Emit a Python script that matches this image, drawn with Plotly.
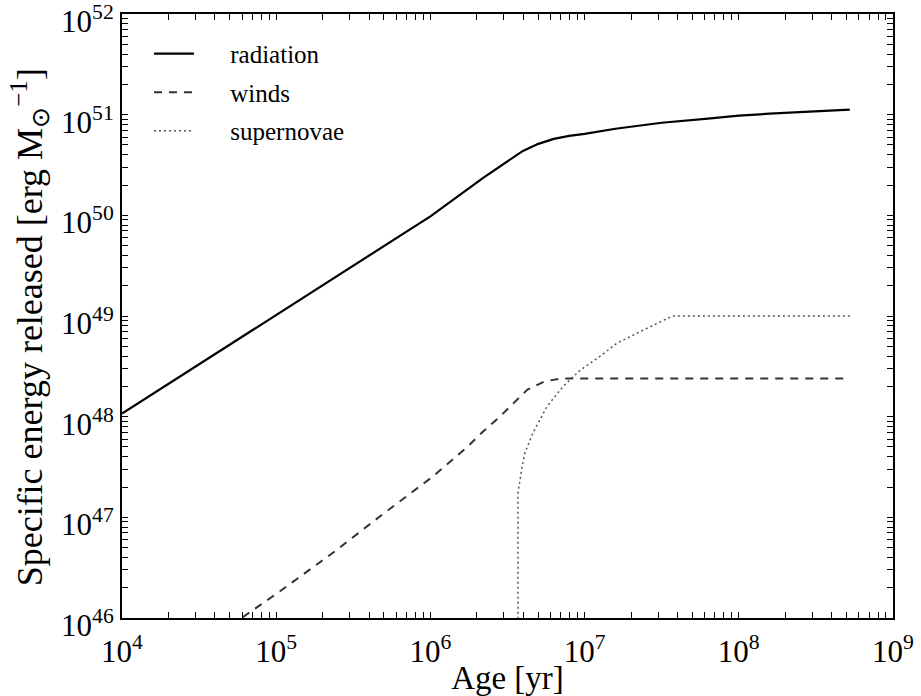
import plotly.graph_objects as go

# Stellar feedback energy per unit stellar mass vs. population age
rad_age_log = [4.0, 4.5, 5.0, 5.5, 6.0, 6.34, 6.5, 6.6, 6.7, 6.8, 6.9, 7.0, 7.2, 7.5, 7.8, 8.0, 8.2, 8.5, 8.72]
rad_e_log = [48.03, 48.52, 49.01, 49.50, 49.99, 50.37, 50.54, 50.64, 50.71, 50.76, 50.79, 50.81, 50.86, 50.92, 50.96, 50.99, 51.01, 51.03, 51.05]

wind_age_log = [4.70, 4.785, 5.01, 5.37, 5.69, 5.85, 6.02, 6.24, 6.34, 6.45, 6.63, 6.74, 6.85, 8.72]
wind_e_log = [45.93, 46.01, 46.25, 46.65, 47.03, 47.21, 47.41, 47.70, 47.85, 48.0, 48.27, 48.35, 48.38, 48.38]

sn_age_log = [6.568, 6.568, 6.594, 6.613, 6.665, 6.756, 6.86, 6.97, 7.10, 7.21, 7.38, 7.57, 8.72]
sn_e_log = [45.0, 47.24, 47.50, 47.64, 47.84, 48.10, 48.30, 48.46, 48.60, 48.73, 48.86, 49.0, 49.0]

x_ticks = [4, 5, 6, 7, 8, 9]
y_ticks = [46, 47, 48, 49, 50, 51, 52]
x_range = [3.9999, 9.0001]
y_range = [45.9999, 52.0001]


def pw(v):
    return [10.0 ** a for a in v]


def tick_arrays(decades):
    """Decade ticks with labels plus unlabelled 2..9 ticks inside each decade."""
    vals, text = [], []
    for d in decades:
        vals.append(10.0 ** d)
        text.append(f"10<sup>{d}</sup>")
    for d in decades[:-1]:
        for k in range(2, 10):
            vals.append(k * 10.0 ** d)
            text.append("")
    return vals, text


FONT = "Liberation Serif"

fig = go.Figure()
fig.add_trace(go.Scatter(x=pw(rad_age_log), y=pw(rad_e_log), mode="lines",
                         name="     radiation", legendgroup="a",
                         line=dict(color="black", width=2.2)))
fig.add_trace(go.Scatter(x=pw(wind_age_log), y=pw(wind_e_log), mode="lines",
                         name="     winds", legendgroup="b",
                         line=dict(color="#333333", width=2, dash="8px,7px")))
fig.add_trace(go.Scatter(x=pw(sn_age_log), y=pw(sn_e_log), mode="lines",
                         name="     supernovae", legendgroup="c",
                         line=dict(color="#555555", width=1.5, dash="2px,3px")))

axis_common = dict(
    type="log", showgrid=False, zeroline=False, automargin=False,
    showline=True, linecolor="black", linewidth=2, mirror="allticks",
    ticks="inside", ticklen=6, tickwidth=1.2, tickcolor="black",
    tickfont=dict(family=FONT, size=31, color="black"),
    ticklabeloverflow="allow",
)

xv, xt = tick_arrays(x_ticks)
yv, yt = tick_arrays(y_ticks)

fig.update_layout(
    template="none",
    width=921, height=696,
    margin=dict(l=122, r=28, t=14, b=78),
    paper_bgcolor="white", plot_bgcolor="white",
    font=dict(family=FONT, color="black"),
    xaxis=dict(axis_common, range=x_range, tickvals=xv, ticktext=xt,
               ticklabelstandoff=5,
               title=dict(text="Age [yr]", font=dict(family=FONT, size=33), standoff=0)),
    yaxis=dict(axis_common, range=y_range, tickvals=yv, ticktext=yt,
               ticklabelshift=7),
    legend=dict(x=0.035, y=0.972, xanchor="left", yanchor="top",
                bgcolor="rgba(0,0,0,0)", borderwidth=0,
                font=dict(family=FONT, size=25, color="black"),
                traceorder="grouped", tracegroupgap=3, itemwidth=40),
    showlegend=True,
    annotations=[dict(
        text="Specific energy released [erg M<sub>⊙</sub><sup>−1</sup>]",
        textangle=-90, xref="paper", yref="paper",
        x=-0.12, y=0.482, xanchor="center", yanchor="middle",
        showarrow=False, font=dict(family=FONT, size=36, color="black"),
    )],
)

fig.write_html("out.html")
